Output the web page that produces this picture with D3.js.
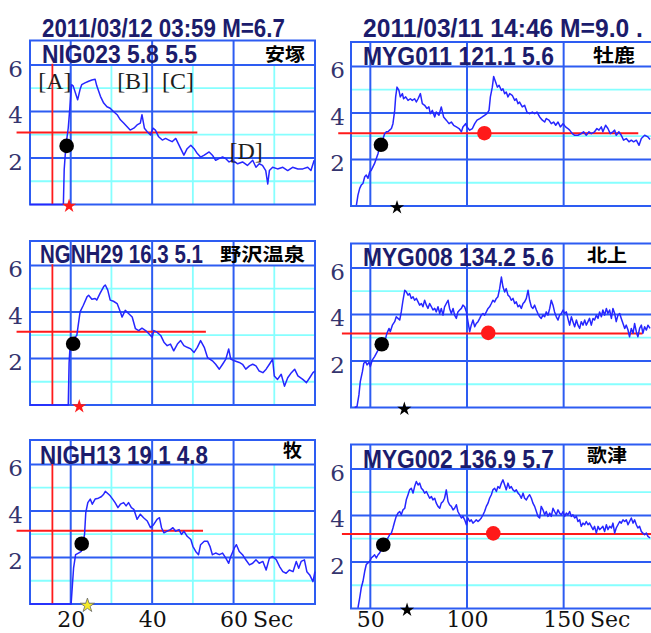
<!DOCTYPE html>
<html>
<head>
<meta charset="utf-8">
<script src="https://cdn.jsdelivr.net/npm/d3@7"></script>
<style>
  body { margin: 0; background: #fff; }
  svg { display: block; }
</style>
</head>
<body>
<svg id="chart" width="651" height="633"></svg>
<script>
// ---- data (seconds, intensity) ----
const nig023 = [[10,0],[18.2,0],[18.4,1.5],[18.8,2.5],[19.4,3.3],[19.9,4.4],[20.2,5.15],[20.6,5.1],[21.7,4.5],[22.3,4.95],[22.7,5.15],[23.5,5.23],[24.4,5.3],[25.2,5.35],[26.0,5.38],[26.4,5.1],[27.3,4.65],[28.1,4.36],[28.9,4.2],[29.7,4.14],[30.5,4.0],[31.4,3.86],[32.2,3.64],[33.0,3.5],[33.8,3.35],[34.6,3.2],[35.5,3.28],[36.3,3.42],[37.1,3.5],[37.5,3.86],[38.1,3.28],[38.8,3.13],[39.6,2.99],[40.2,3.28],[40.8,3.2],[41.6,2.91],[42.5,2.77],[43.3,2.84],[44.1,2.77],[44.9,2.7],[45.8,2.84],[46.6,2.55],[47.8,2.12],[48.6,2.4],[49.5,2.55],[50.3,2.4],[51.1,2.19],[51.9,2.04],[52.8,2.12],[54.0,2.26],[54.8,2.12],[55.6,1.9],[56.4,1.97],[57.3,2.04],[58.1,1.97],[58.9,1.83],[59.8,1.9],[61.0,1.75],[62.2,1.83],[63.4,1.68],[64.7,1.9],[65.5,1.6],[66.3,1.75],[67.1,1.68],[67.9,1.46],[68.4,0.88],[68.8,1.46],[69.6,1.6],[70.8,1.53],[72.1,1.6],[73.3,1.46],[74.5,1.6],[75.8,1.53],[77.0,1.53],[78.2,1.6],[79.0,1.46],[79.8,1.9]];

const ngnh29 = [[10,0],[19.4,0],[19.6,1.8],[19.9,2.7],[20.5,2.84],[21.5,2.99],[22.3,4.0],[23.1,4.29],[24.0,4.65],[24.4,4.72],[25.2,4.55],[26.0,4.58],[26.4,4.51],[27.2,4.8],[28.1,5.09],[28.5,5.16],[29.1,4.94],[29.7,4.51],[30.5,4.46],[31.4,4.36],[32.2,4.0],[32.6,3.78],[33.4,4.07],[34.2,3.93],[35.1,3.78],[35.9,3.28],[36.7,3.2],[37.5,3.3],[38.4,3.2],[39.2,3.06],[40.0,2.91],[40.4,3.2],[41.2,3.13],[42.1,2.99],[42.9,2.7],[43.7,2.55],[44.5,2.62],[45.3,2.33],[46.2,2.62],[47.0,2.77],[47.8,2.55],[48.6,2.48],[49.5,2.41],[50.3,2.26],[51.1,2.48],[51.9,2.77],[52.8,2.48],[53.6,2.04],[54.8,1.9],[55.6,1.75],[56.5,1.54],[57.3,1.75],[58.1,1.97],[58.8,2.41],[59.3,1.97],[60.2,1.9],[61.4,1.83],[62.2,1.75],[63.0,1.54],[63.9,1.68],[64.7,1.75],[65.5,1.68],[66.3,1.46],[67.2,1.39],[68.0,1.54],[68.8,1.75],[69.6,1.97],[70.0,1.25],[70.8,1.1],[71.7,1.32],[72.5,0.81],[73.3,1.17],[74.2,1.39],[75.0,1.54],[75.8,1.25],[77.0,1.1],[77.9,0.96],[78.7,1.17],[79.5,1.39],[80.0,1.46]];

const nigh13 = [[10,0],[20.0,0],[20.1,0],[20.7,1.54],[21.2,2.12],[21.9,2.19],[22.6,2.26],[23.4,2.99],[23.7,3.93],[24.2,4.36],[24.8,4.51],[25.3,4.29],[26.0,4.51],[26.8,4.55],[27.5,4.61],[28.1,4.72],[28.5,4.84],[29.1,4.75],[29.7,4.65],[30.3,4.51],[30.9,4.36],[31.6,4.14],[32.2,4.29],[33.0,4.36],[33.6,4.22],[34.2,4.36],[34.9,4.14],[35.5,4.07],[36.3,3.64],[37.1,3.86],[37.9,3.71],[38.8,3.57],[39.6,3.28],[40.4,3.42],[41.2,3.64],[41.8,3.71],[42.3,3.28],[42.9,3.06],[43.7,3.13],[44.5,3.2],[45.1,3.28],[45.8,3.13],[46.6,3.2],[47.2,2.99],[47.8,3.13],[48.6,2.91],[49.5,2.77],[50.0,2.48],[50.7,2.26],[51.4,2.12],[51.9,2.55],[52.8,2.7],[53.6,2.7],[54.2,2.48],[54.8,2.12],[55.6,2.19],[56.5,2.12],[57.3,2.19],[58.1,1.97],[58.8,1.75],[59.3,2.04],[60.2,2.41],[60.7,2.55],[61.4,2.26],[62.2,2.12],[63.0,1.9],[63.9,1.68],[64.7,1.75],[65.5,1.9],[66.3,1.75],[67.2,1.83],[68.0,1.46],[68.8,1.97],[69.6,2.04],[70.5,1.9],[71.3,1.61],[72.1,1.39],[72.9,1.32],[73.7,1.46],[74.6,1.39],[75.4,1.83],[76.0,1.54],[76.6,1.83],[77.4,1.9],[78.0,1.39],[78.7,1.25],[79.5,0.96],[79.9,1.32],[80.0,1.39]];

const myg011 = [[42.8,0.04],[43.6,0.47],[44.5,0.76],[45.3,0.9],[46.2,0.97],[47.1,1.26],[47.9,1.33],[48.8,1.19],[49.7,1.47],[50.5,1.54],[51.4,1.69],[52.2,1.83],[53.1,2.04],[54.0,2.26],[54.8,2.54],[55.7,2.69],[56.6,2.9],[57.4,3.11],[58.3,3.19],[59.1,3.19],[60.0,3.26],[60.9,3.33],[61.7,3.54],[62.6,4.11],[63.1,4.69],[63.8,5.11],[64.8,4.97],[65.5,4.69],[66.6,4.83],[67.2,4.61],[68.3,4.69],[69.5,4.54],[70.7,4.61],[71.7,4.54],[72.9,4.61],[73.8,4.47],[74.7,4.61],[75.9,4.83],[76.9,4.4],[78.1,4.33],[79.3,4.19],[80.3,4.26],[81.0,3.97],[82.1,4.11],[83.3,3.83],[84.1,4.04],[85.5,3.9],[86.7,4.26],[87.9,3.83],[89.3,3.69],[90.7,3.54],[91.9,3.61],[93.1,3.47],[94.5,3.4],[95.9,3.33],[97.1,3.19],[97.9,3.4],[99.3,3.54],[100.0,3.4],[101.4,3.26],[102.8,3.33],[104.0,3.54],[105.2,3.69],[106.6,3.76],[107.9,3.83],[109.1,3.9],[110.3,3.97],[111.4,4.11],[112.1,4.69],[113.1,5.11],[113.8,5.57],[114.8,5.33],[115.7,5.11],[116.6,5.19],[117.8,4.97],[118.6,5.04],[119.5,4.83],[120.3,4.9],[121.2,4.69],[122.1,4.83],[123.4,4.76],[124.7,4.54],[125.5,4.61],[126.4,4.4],[127.2,4.47],[128.6,4.26],[129.8,4.33],[131.0,4.04],[132.4,3.97],[133.8,4.04],[135.0,3.97],[136.2,4.04],[137.6,3.83],[139.0,3.69],[140.2,3.61],[141.0,3.76],[142.4,3.69],[143.6,3.54],[144.8,3.61],[145.9,3.47],[147.1,3.61],[148.3,3.4],[149.7,3.54],[151.0,3.4],[152.2,3.33],[153.1,3.26],[154.5,3.11],[155.7,3.04],[157.4,3.04],[159.1,3.11],[160.3,3.19],[161.7,3.04],[163.1,3.19],[164.3,3.11],[166.0,3.19],[167.2,3.33],[168.3,3.26],[169.5,3.4],[170.3,3.19],[171.7,3.47],[172.9,3.33],[174.1,3.11],[175.5,3.19],[176.4,3.26],[177.2,3.04],[178.6,3.19],[179.8,3.04],[181.0,2.83],[182.4,2.9],[183.8,2.76],[185.0,2.83],[186.2,2.76],[187.6,2.83],[189.0,2.61],[190.2,2.9],[191.9,3.04],[193.6,2.97],[194.7,2.86]];

const myg008 = [[41.9,0],[43.1,0.04],[44.1,0.54],[44.8,1.11],[45.9,1.54],[46.6,1.9],[47.6,1.97],[48.3,1.83],[49.3,1.94],[50.0,1.76],[51.0,2.04],[52.2,2.19],[53.1,2.33],[54.0,2.47],[55.2,2.61],[56.6,2.76],[57.9,2.97],[58.6,3.19],[59.7,3.4],[60.3,3.26],[61.4,3.54],[62.6,3.69],[63.4,3.9],[64.3,3.83],[65.2,3.76],[66.0,4.11],[66.9,4.61],[67.8,5.04],[68.6,4.97],[69.5,4.83],[70.3,4.9],[71.2,4.69],[72.1,4.76],[72.9,4.61],[73.8,4.69],[74.7,4.54],[75.5,4.4],[76.4,4.47],[77.2,4.33],[78.1,4.61],[79.0,4.4],[79.8,4.26],[80.7,4.47],[81.6,4.33],[82.4,4.19],[83.3,4.26],[84.1,4.11],[85.0,4.33],[85.9,4.04],[86.7,4.26],[87.6,3.97],[88.4,4.33],[89.3,4.47],[90.2,4.61],[91.0,4.26],[91.9,4.04],[92.8,4.26],[93.6,3.97],[94.5,3.83],[95.3,4.11],[96.2,4.19],[97.1,4.26],[97.9,4.4],[98.8,4.33],[99.7,4.11],[100.5,3.69],[101.4,3.26],[102.2,3.54],[103.1,3.76],[104.0,3.47],[104.8,3.61],[105.7,3.69],[106.6,3.83],[107.4,3.97],[108.3,4.04],[109.1,3.97],[110.0,4.11],[110.9,4.26],[111.7,4.33],[112.6,4.47],[113.4,4.61],[114.3,4.54],[115.2,4.69],[116.0,4.76],[116.9,5.11],[117.8,5.61],[118.6,5.19],[119.5,4.97],[120.3,5.11],[121.2,4.83],[122.1,4.76],[122.9,4.61],[123.8,4.69],[124.7,4.47],[125.5,4.54],[126.4,4.33],[127.2,4.4],[128.1,4.26],[129.0,4.47],[129.8,4.54],[130.7,4.69],[131.6,5.04],[132.4,4.61],[133.3,4.33],[134.1,4.26],[135.0,4.4],[135.9,4.19],[136.7,4.04],[137.6,3.9],[138.4,3.83],[139.3,3.97],[140.2,3.9],[141.0,4.11],[141.9,3.97],[142.8,4.26],[143.6,4.61],[144.5,4.4],[145.3,4.11],[146.2,3.9],[147.1,3.76],[147.9,3.97],[148.8,4.04],[149.7,4.19],[150.5,4.04],[151.4,4.11],[152.2,3.83],[153.1,3.54],[154.0,3.9],[154.8,3.69],[155.7,3.47],[156.6,3.76],[157.4,3.54],[158.3,3.4],[159.1,3.69],[160.0,3.54],[160.9,3.76],[161.7,3.54],[162.6,3.69],[163.4,3.83],[164.3,3.54],[165.2,3.83],[166.0,3.76],[166.9,3.97],[167.8,3.83],[168.6,4.11],[169.5,3.9],[170.3,4.19],[171.2,3.97],[172.1,4.26],[172.9,4.04],[173.8,4.19],[174.7,3.83],[175.5,4.26],[176.4,4.04],[177.2,3.69],[178.1,3.97],[179.0,4.04],[179.8,3.83],[180.7,3.61],[181.6,3.4],[182.4,3.54],[183.3,3.33],[184.1,3.04],[185.0,3.4],[185.9,3.19],[186.7,3.61],[187.6,3.26],[188.4,3.04],[189.3,3.4],[190.2,3.54],[191.0,3.19],[191.9,3.47],[192.8,3.33],[193.6,3.54],[194.7,3.4]];

const myg002 = [[43.6,0.03],[44.5,0.46],[45.3,0.89],[46.2,1.17],[47.1,1.6],[47.9,1.89],[48.8,1.96],[49.7,2.03],[50.5,2.17],[51.4,2.24],[52.2,2.31],[53.1,2.17],[54.0,2.31],[54.8,2.39],[55.7,2.53],[57.4,2.81],[58.3,2.96],[59.1,3.03],[60.0,3.17],[60.9,3.24],[61.7,3.46],[62.6,3.74],[63.4,3.96],[64.3,4.1],[65.2,4.17],[66.0,4.03],[66.9,4.24],[67.8,4.31],[68.6,4.67],[69.5,4.89],[70.3,5.1],[71.2,5.17],[72.1,4.96],[72.9,5.24],[73.8,5.46],[74.7,5.31],[75.5,5.39],[76.4,5.17],[77.2,5.1],[78.1,4.96],[79.0,5.03],[79.8,4.89],[80.7,4.74],[81.6,4.81],[82.4,4.67],[83.3,4.74],[84.1,4.53],[85.0,4.39],[85.9,4.31],[86.7,4.53],[87.6,4.6],[88.4,4.74],[89.3,5.1],[90.2,4.6],[91.0,4.46],[91.9,4.39],[92.8,4.24],[93.6,4.31],[94.5,4.46],[95.3,4.17],[96.2,4.03],[97.1,3.89],[97.9,3.96],[98.8,3.81],[99.7,3.6],[100.5,3.89],[101.4,3.74],[102.2,3.81],[103.1,3.67],[104.0,3.74],[104.8,3.81],[105.7,3.74],[106.6,3.81],[107.4,3.89],[108.3,4.03],[109.1,4.17],[110.0,4.39],[110.9,4.53],[111.7,4.74],[112.6,4.89],[113.4,5.1],[114.3,5.17],[115.2,5.03],[116.0,5.24],[116.9,5.17],[117.8,5.39],[118.6,5.53],[119.5,5.31],[120.3,5.1],[121.2,5.39],[122.1,5.17],[122.9,5.24],[123.8,5.1],[124.7,5.03],[125.5,5.1],[126.4,4.96],[127.2,4.89],[128.1,4.74],[129.0,4.96],[129.8,4.74],[130.7,4.67],[131.6,4.81],[132.4,4.89],[133.3,4.74],[134.1,4.53],[135.0,4.39],[135.9,4.17],[136.7,3.96],[137.6,3.89],[138.4,4.39],[139.3,4.24],[140.2,4.03],[141.0,4.17],[141.9,3.96],[142.8,4.1],[143.6,3.96],[144.5,4.31],[145.3,4.17],[146.2,4.03],[147.1,4.24],[147.9,4.1],[148.8,4.03],[149.7,4.17],[150.5,3.96],[151.4,4.1],[152.2,4.03],[153.1,4.17],[154.0,3.96],[154.8,4.03],[155.7,3.89],[156.6,3.96],[157.4,3.74],[158.3,3.81],[159.1,3.53],[160.0,3.67],[160.9,3.6],[161.7,3.74],[162.6,3.6],[163.4,3.67],[164.3,3.53],[165.2,3.39],[166.0,3.53],[166.9,3.24],[167.8,3.53],[168.6,3.39],[169.5,3.46],[170.3,3.53],[171.2,3.31],[172.1,3.6],[172.9,3.39],[173.8,3.53],[174.7,3.46],[175.5,3.67],[176.4,3.24],[177.2,3.46],[178.1,3.6],[179.0,3.74],[179.8,3.67],[180.7,3.81],[181.6,3.74],[182.4,3.81],[183.3,3.6],[184.1,3.74],[185.0,3.89],[185.9,3.67],[186.7,3.81],[187.6,3.6],[188.4,3.46],[189.3,3.53],[190.2,3.31],[191.0,3.24],[191.9,3.17],[192.8,3.24],[193.6,3.1],[194.7,3.03]];

// panel order: left column top->bottom, then right column top->bottom
const series = [nig023, ngnh29, nigh13, myg011, myg008, myg002];
const headers = ['NIG023 5.8 5.5', 'NGNH29 16.3 5.1', 'NIGH13 19.1 4.8',
                 'MYG011 121.1 5.6', 'MYG008 134.2 5.6', 'MYG002 136.9 5.7'];
const sites = ['安塚', '野沢温泉', '牧', '牡鹿', '北上', '歌津'];
const eventTitles = ['2011/03/12 03:59 M=6.7', '2011/03/11 14:46 M=9.0 .'];
const thresholds = [3.1, 3.15, 3.15, 3.13, 3.18, 3.2];
const thresholdSpan = [[6.7, 51.1], [6.7, 53.2], [6.7, 52.5], [33.4, 188.6], [35.3, 190.8], [35.3, 200]];
const blackDots = [[19.0, 2.52], [20.6, 2.63], [22.7, 2.59], [55.5, 2.63], [55.9, 2.72], [56.7, 2.74]];
const redDots = [null, null, null, [109.0, 3.13], [111.0, 3.21], [113.6, 3.23]];
const starTimes = [19.6, 22.1, 24.1, 63.8, 67.6, 69.0];
const originTime = 15.5;   // red vertical line, left column
const noteLabels = ['[A]', '[B]', '[C]', '[D]'];
const noteTimes = [12.0, 31.4, 42.4, 59.0];
const noteLevels = [4.96, 4.96, 4.96, 1.94];
const yTicks = [2, 4, 6];
const yMinor = [1, 3, 5];
const leftTicks = [20, 40, 60];
const leftMinor = [30, 50, 70];
const rightTicks = [50, 100, 150];

// ---- layout ----
const BLUE = '#2d5cf2', CYAN = '#86ffff', TRACE = '#2626ff', RED = '#ff1a1a', NAVY = '#1c1c6c';
const tops = [40.5, 241, 440, 42, 243.5, 444.5];
const H = 164;
const subBase = [63, 263, 464, 65, 265.5, 467.5];
const subSpan = [[42, 155], [40, 163], [40, 168], [363, 191], [363, 191], [363, 191]];
const siteBase = [60.5, 260.5, 456.5, 61.5, 261.5, 461.5];
const siteSpan = [[265, 40], [220, 85], [283, 19], [593, 42], [587, 40], [587, 40]];
const gothic = "'Liberation Sans', 'DejaVu Sans', sans-serif";
const serif = "'DejaVu Serif', 'Liberation Serif', serif";

const svg = d3.select('#chart');

// squeeze a text horizontally so it spans exactly `width` pixels
const fitText = (sel, x, y, width) => {
  const w = sel.node().getComputedTextLength();
  sel.attr('transform', `translate(${x},${y}) scale(${width / w},1)`);
};

series.forEach((data, i) => {
  const left = i < 3;
  const x = d3.scaleLinear()
    .domain(left ? [10, 80] : [40, 200])
    .range(left ? [30, 315] : [351, 660.3]);
  const y = d3.scaleLinear().domain([0, 7.05]).range([tops[i] + H, tops[i]]);
  const [x0, x1] = x.range();
  const yb = y(0), yt = tops[i];
  const g = svg.append('g');

  // minor grid
  g.selectAll('.hmin').data(yMinor).join('line')
    .attr('x1', x0).attr('x2', x1).attr('y1', d => y(d)).attr('y2', d => y(d))
    .attr('stroke', CYAN).attr('stroke-width', 1.8);
  if (left) {
    g.selectAll('.vmin').data(leftMinor).join('line')
      .attr('x1', d => x(d)).attr('x2', d => x(d)).attr('y1', y(6)).attr('y2', yb)
      .attr('stroke', CYAN).attr('stroke-width', 1.8);
  }
  // major grid
  g.selectAll('.hmaj').data(yTicks).join('line')
    .attr('x1', x0).attr('x2', x1).attr('y1', d => y(d)).attr('y2', d => y(d))
    .attr('stroke', BLUE).attr('stroke-width', 2);
  g.selectAll('.vmaj').data(left ? leftTicks : rightTicks).join('line')
    .attr('x1', d => x(d)).attr('x2', d => x(d)).attr('y1', yt).attr('y2', yb)
    .attr('stroke', BLUE).attr('stroke-width', 2);
  g.append('rect')
    .attr('x', x0).attr('y', yt).attr('width', x1 - x0).attr('height', yb - yt)
    .attr('fill', 'none').attr('stroke', BLUE).attr('stroke-width', 2);

  // red reference lines
  if (left) {
    g.append('line')
      .attr('x1', x(originTime)).attr('x2', x(originTime))
      .attr('y1', y(6.05)).attr('y2', yb)
      .attr('stroke', RED).attr('stroke-width', 1.8);
  }
  g.append('line')
    .attr('x1', x(thresholdSpan[i][0])).attr('x2', x(thresholdSpan[i][1]))
    .attr('y1', y(thresholds[i])).attr('y2', y(thresholds[i]))
    .attr('stroke', RED).attr('stroke-width', 2);

  // trace
  const line = d3.line().x(d => x(d[0])).y(d => y(d[1]));
  g.append('path').datum(data)
    .attr('d', line)
    .attr('fill', 'none').attr('stroke', TRACE).attr('stroke-width', 1.5)
    .attr('stroke-linejoin', 'round');

  // markers
  g.append('circle')
    .attr('cx', x(blackDots[i][0])).attr('cy', y(blackDots[i][1])).attr('r', 7.3)
    .attr('fill', '#000');
  if (redDots[i]) {
    g.append('circle')
      .attr('cx', x(redDots[i][0])).attr('cy', y(redDots[i][1])).attr('r', 7.3)
      .attr('fill', RED);
  }
  const starFill = i < 2 ? RED : (i === 2 ? '#f4ea2a' : '#000');
  g.append('path')
    .attr('d', d3.symbol(d3.symbolStar, 62)())
    .attr('transform', `translate(${x(starTimes[i])},${yb + 1.5})`)
    .attr('fill', starFill)
    .attr('stroke', i === 2 ? '#666' : 'none').attr('stroke-width', 0.8);

  // y labels
  const ya = g.append('g').attr('transform', `translate(${x0},0)`)
    .call(d3.axisLeft(y).tickValues(yTicks).tickFormat(d3.format('d'))
      .tickSize(0).tickPadding(left ? 7 : 6));
  ya.select('.domain').remove();
  ya.selectAll('text')
    .attr('dy', '0.5em')
    .style('font-family', serif).style('font-size', '23px').attr('fill', '#34346e');

  // header texts
  if (i === 0 || i === 3) {
    const t = g.append('text')
      .style('font-family', gothic).style('font-weight', 'bold').style('font-size', '26px')
      .attr('fill', NAVY)
      .text(eventTitles[left ? 0 : 1]);
    fitText(t, left ? 42 : 363, 37, left ? 243 : 280);
  }
  const sub = g.append('text')
    .style('font-family', gothic).style('font-weight', 'bold').style('font-size', '25px')
    .attr('fill', NAVY)
    .text(headers[i]);
  fitText(sub, subSpan[i][0], subBase[i], subSpan[i][1]);
  const site = g.append('text')
    .style('font-family', "'Noto Sans CJK JP', sans-serif").style('font-weight', 'bold')
    .style('font-size', '18px').attr('fill', '#000')
    .text(sites[i]);
  fitText(site, siteSpan[i][0], siteBase[i], siteSpan[i][1]);

  // annotations in first panel
  if (i === 0) {
    g.selectAll('.note').data(noteLabels).join('text')
      .attr('x', (d, k) => x(noteTimes[k])).attr('y', (d, k) => y(noteLevels[k]))
      .style('font-family', "'Liberation Serif', serif").style('font-size', '24px')
      .attr('fill', '#1e1e1e')
      .text(d => d);
  }

  // bottom axis for bottom row
  if (i === 2 || i === 5) {
    const ticks = left ? leftTicks : rightTicks;
    const xa = g.append('g').attr('transform', `translate(0,${yb})`)
      .call(d3.axisBottom(x).tickValues(ticks).tickSize(0).tickPadding(627 - 15.6 - yb));
    xa.select('.domain').remove();
    xa.selectAll('text')
      .style('font-family', serif).style('font-size', '22px').attr('fill', '#111');
    g.append('text')
      .attr('x', left ? 253 : 590).attr('y', 627)
      .style('font-family', serif).style('font-size', '22px').attr('fill', '#111')
      .text('Sec');
  }
});
</script>
</body>
</html>
